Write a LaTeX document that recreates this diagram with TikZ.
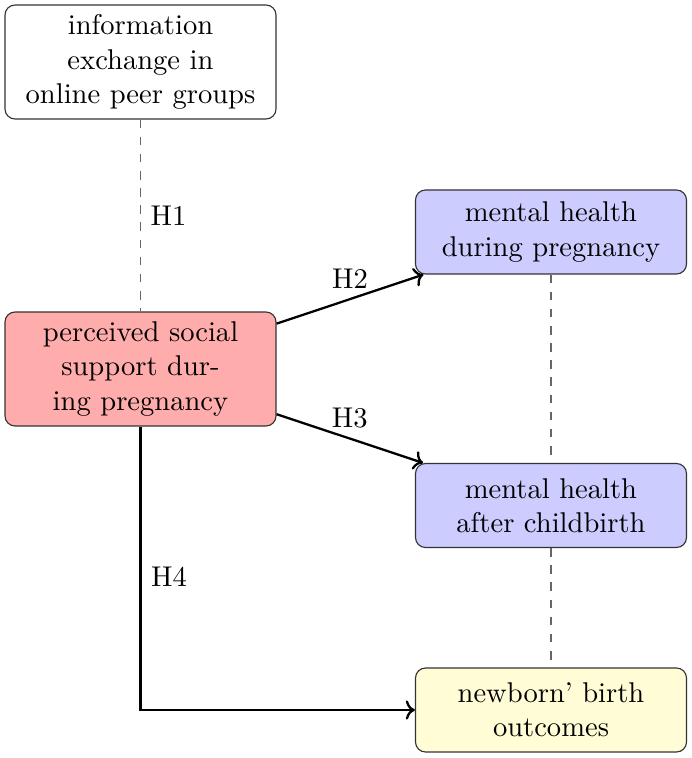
\documentclass[tikz,border=0pt]{standalone}
\usetikzlibrary{arrows.meta}
\definecolor{redfill}{RGB}{255,172,172}
\definecolor{bluefill}{RGB}{204,204,255}
\definecolor{yellowfill}{RGB}{255,252,214}
\begin{document}
\begin{tikzpicture}[x=0.35pt,y=-0.35pt,
  box/.style={draw=black!80, rounded corners=3.5pt, align=center, text width=88pt,
    minimum width=94.85pt, inner xsep=3.4pt, font=\normalsize},
  tall/.style={box, minimum height=39.9pt},
  short/.style={box, minimum height=29.4pt},
  dashline/.style={draw=black!60, dashed},
  arr/.style={draw=black, thick, -{To[length=3.2pt]}},
  lab/.style={font=\normalsize}]
\useasboundingbox (0,0) rectangle (691,758);
\node[tall] (info) at (140.5,62) {information\\exchange in\\online peer groups};
\node[tall, fill=redfill] (pss) at (140.5,369) {perceived social\\support dur-\\ing pregnancy};
\node[short, fill=bluefill] (mh1) at (551,232) {mental health\\during pregnancy};
\node[short, fill=bluefill] (mh2) at (551,505.5) {mental health\\after childbirth};
\node[short, fill=yellowfill] (nb) at (551,710) {newborn' birth\\outcomes};
\draw[dashline] (info) -- node[lab, right=0pt] {H1} (pss);
\draw[dashline] (mh1) -- (mh2);
\draw[dashline] (mh2) -- (nb);
\draw[arr] (pss) -- node[lab, midway, above=0pt] {H2} (mh1);
\draw[arr] (pss) -- node[lab, midway, above=0pt] {H3} (mh2);
\draw[arr] (pss) |- node[lab, pos=0.265, right=0pt] {H4} (nb);
\end{tikzpicture}
\end{document}
